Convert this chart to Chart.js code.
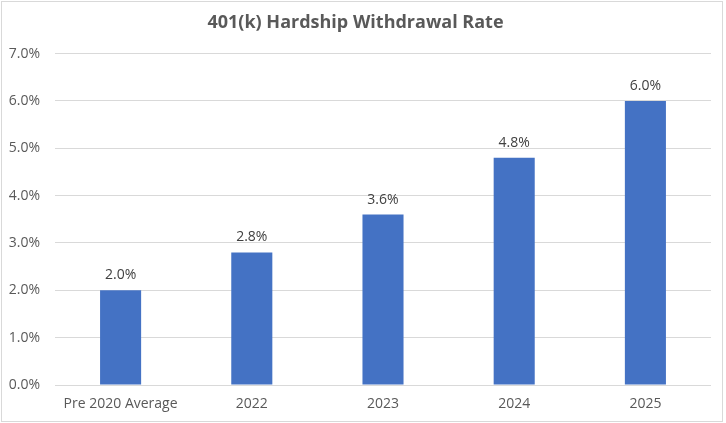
<!DOCTYPE html>
<html>
<head>
<meta charset="utf-8">
<script src="https://cdn.jsdelivr.net/npm/chart.js@4/dist/chart.umd.min.js"></script>
<style>
    html, body { margin: 0; padding: 0; background: #ffffff; }
    #wrap { width: 726px; height: 423px; }
</style>
</head>
<body>
<div id="wrap"><canvas id="hardship-rate"></canvas></div>
<script>
const categories = ['Pre 2020 Average', '2022', '2023', '2024', '2025'];
const withdrawalRate = [2.0, 2.8, 3.6, 4.8, 6.0];
const yTicks = [0, 1, 2, 3, 4, 5, 6, 7];

Chart.defaults.font.family = "'Open Sans', 'Liberation Sans', sans-serif";
Chart.defaults.font.size = 14;
Chart.defaults.color = '#595959';

// excel-style frame around the chart
const framePlugin = {
    id: 'frame',
    afterDraw(chart) {
        const ctx = chart.ctx;
        ctx.save();
        ctx.strokeStyle = '#d9d9d9';
        ctx.lineWidth = 1;
        ctx.strokeRect(1.5, 1.5, 721, 420);
        ctx.restore();
    }
};

// value labels above the bars
const barLabelPlugin = {
    id: 'barLabels',
    afterDatasetsDraw(chart) {
        const ctx = chart.ctx;
        const meta = chart.getDatasetMeta(0);
        ctx.save();
        ctx.font = "14px 'Open Sans', 'Liberation Sans', sans-serif";
        ctx.fillStyle = '#404040';
        ctx.textAlign = 'center';
        ctx.textBaseline = 'middle';
        meta.data.forEach(function (bar, i) {
            ctx.fillText(withdrawalRate[i].toFixed(1) + '%', bar.x, bar.y - 15);
        });
        ctx.restore();
    }
};

let ctx = document.getElementById('hardship-rate').getContext('2d');

let hardshipChart = new Chart(ctx, {
    type: 'bar',
    data: {
        labels: categories,
        datasets: [{
            label: '401(k) Hardship Withdrawal Rate',
            data: withdrawalRate,
            backgroundColor: '#4472C4',
            barPercentage: 0.313,
            categoryPercentage: 1.0
        }]
    },
    options: {
        responsive: true,
        maintainAspectRatio: false,
        animation: false,
        layout: {
            padding: { left: 0, right: 15, top: 0, bottom: 9 }
        },
        plugins: {
            legend: { display: false },
            tooltip: { enabled: false },
            title: {
                display: true,
                text: '401(k) Hardship Withdrawal Rate',
                color: '#595959',
                font: { size: 18, weight: 'bold' },
                padding: { top: 12, bottom: 20 }
            }
        },
        scales: {
            x: {
                grid: { display: false, drawTicks: false },
                border: { display: false },
                afterFit: function (scale) {
                    scale.height = 29;
                },
                ticks: { padding: 11, color: '#595959', maxRotation: 0 }
            },
            y: {
                min: 0,
                max: 7,
                afterBuildTicks: function (scale) {
                    scale.ticks = yTicks.map(v => ({ value: v }));
                },
                afterFit: function (scale) {
                    scale.width = 55;
                },
                grid: { color: '#d9d9d9', drawTicks: false },
                border: { display: false },
                ticks: {
                    padding: 15,
                    color: '#595959',
                    callback: function (value) {
                        return value.toFixed(1) + '%';
                    }
                }
            }
        }
    },
    plugins: [framePlugin, barLabelPlugin]
});
</script>
</body>
</html>
